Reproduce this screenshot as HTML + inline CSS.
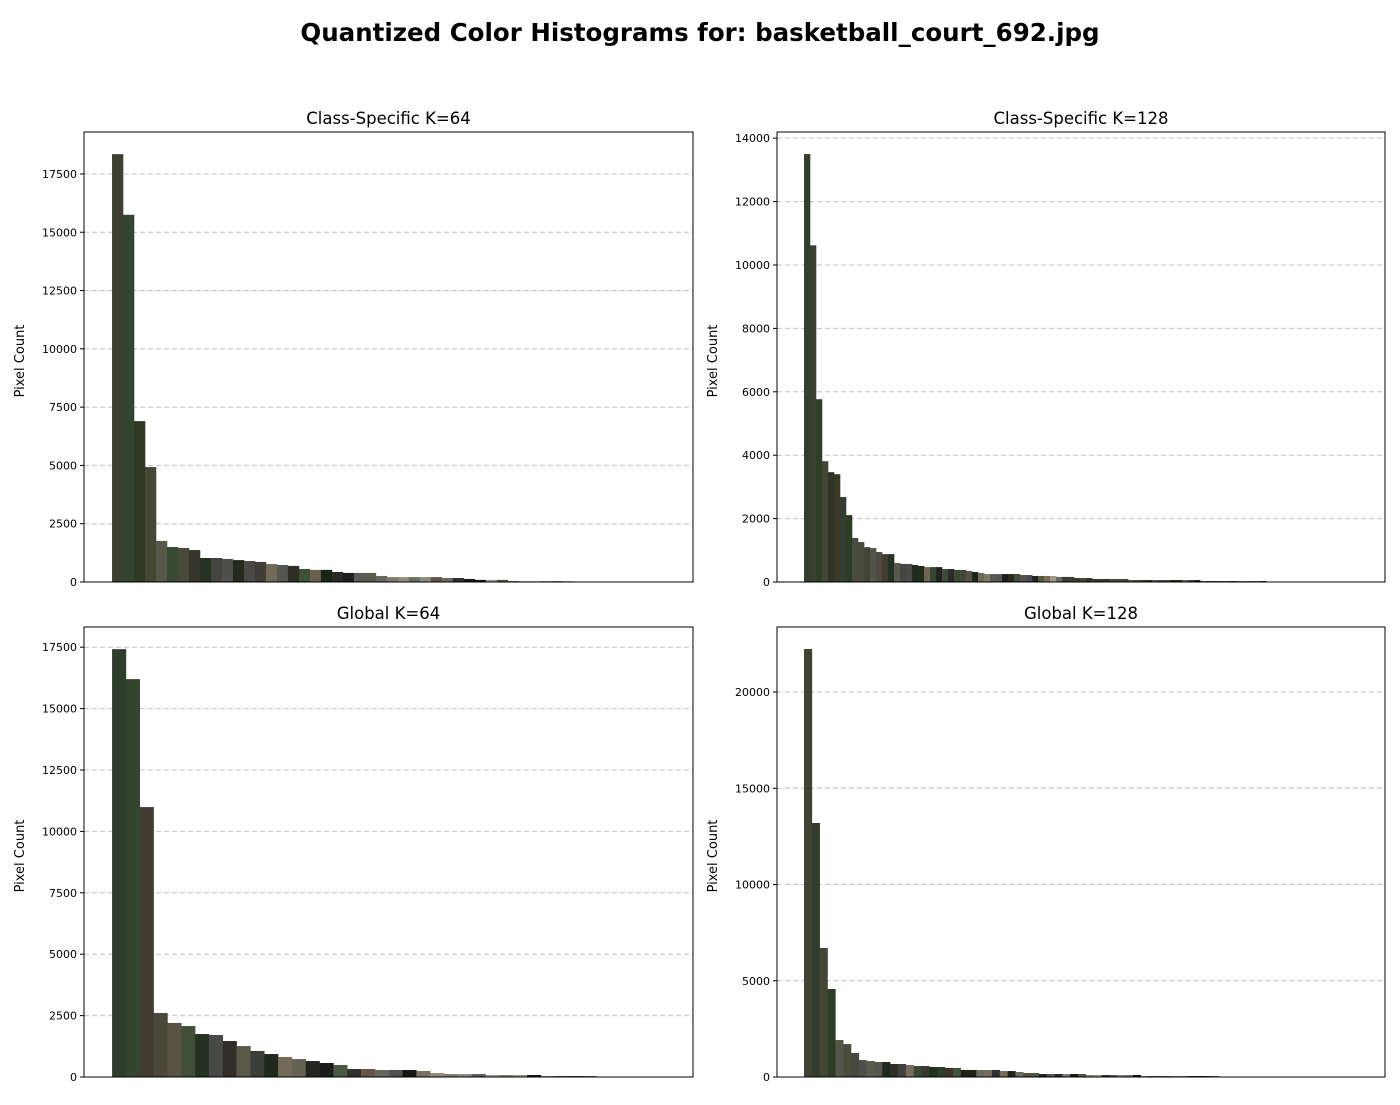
<!DOCTYPE html>
<html><head><meta charset="utf-8"><style>
body{margin:0;background:#fff;font-family:"Liberation Sans","DejaVu Sans",sans-serif}
svg text{font-family:"DejaVu Sans","Liberation Sans",sans-serif}
</style></head><body>
<svg id="fig" width="1400" height="1100" xmlns="http://www.w3.org/2000/svg">
<rect width="1400" height="1100" fill="#fff"/>
<text x="700" y="41" text-anchor="middle" font-size="24.5" font-weight="bold">Quantized Color Histograms for: basketball_court_692.jpg</text>
</svg>
<script>
const tlValues=[18350,15750,6900,4930,1760,1500,1460,1370,1030,1030,990,940,900,860,770,730,690,560,520,520,430,390,390,390,260,210,210,210,210,210,170,170,130,90,90,90,40,30,30,30,40,30];
const tlColors=["#3d4030","#324530","#2e3a24","#464836","#57574a","#384a33","#4a4a3a","#36332a","#243322","#464440","#4e4e4c","#232a1c","#4a4845","#403d37","#716a58","#555651","#2e2e24","#3e5138","#6a604e","#1b2416","#2a2a28","#1f1f1e","#585a57","#5e5a4a","#686862","#807a69","#958e7e","#687058","#8c8a80","#67504a","#6b6b60","#2b2d30","#151714","#141414","#a09a8c","#4a5a40","#5a4440","#6a6a66","#7a7a70","#111","#707070","#777"];
const trValues=[13500,10620,5765,3810,3465,3400,2680,2110,1390,1260,1100,1070,945,880,880,600,570,570,535,505,470,470,470,410,410,380,380,345,315,285,250,250,250,250,250,250,220,220,190,190,190,190,160,160,160,125,125,125,95,95,95,95,95,95,63,63,63,63,63,63,63,63,63,63,63,63,30,30,30,30,30,30,30,30,30,30,30];
const trColors=["#353d2e","#3a4030","#2f3f28","#424632","#2f3328","#3a3a26","#323e34","#2b3d22","#4c4a40","#484a3c","#434437","#505548","#4e4a40","#403c30","#243322","#5a584c","#444440","#484846","#1f2a1a","#202c1c","#6e6652","#344830","#222","#404a3c","#2a2a2a","#3a4a32","#3f4a36","#555048","#1b2416","#6e6a5a","#7a7a62","#5a5a50","#555","#1c1c1a","#2a2a1c","#3e4e38","#545050","#4a4a4a","#222","#58583e","#7c6a55","#a09888","#6a6a64"];
const blValues=[17420,16200,10990,2605,2200,2075,1750,1710,1465,1260,1060,935,815,730,650,570,490,325,325,285,285,285,245,160,120,120,120,80,80,80,80,40,40,40,40];
const blColors=["#2f3d2c","#344530","#403c30","#4a4838","#5a5244","#405038","#243222","#484a48","#302e26","#5a5848","#3c3e3a","#1e2a1c","#746a58","#646252","#252522","#1c1c1a","#4a5a44","#303030","#6a5446","#666860","#505250","#151712","#787260","#908878","#807a68","#8c8a84","#5a5a5a","#a09888","#807e74","#9a9a90","#111","#888880","#3e4e38","#2a3030","#666"];
const brValues=[22235,13195,6700,4570,1920,1710,1250,880,830,780,780,675,675,625,570,570,520,520,470,470,365,365,365,365,365,310,310,260,210,210,155,155,155,155,155,155,105,105,105,105,105,105,105,52,52,52,52,52,52,52,52,52,52];
const brColors=["#3e4332","#333c2c","#424634","#2c3d25","#55554a","#4a4c3c","#48483f","#4e4e4c","#5a5a50","#555552","#1e2a1e","#2e2e26","#404040","#786c5a","#384834","#3a3630","#223022","#2c3e28","#3a3328","#405538","#201f18","#1a2214","#6a6a62","#766a58","#303030","#7a6a58","#242018","#6c6c64","#5c4c3c","#4a5a44","#222","#555","#2a2a2a","#7a7a70","#151512","#5a4c40","#908878","#a09888","#333","#4a5a44","#888","#777","#111","#9a9a90","#3e4e38","#555","#666","#a09888","#777","#222","#111","#333","#666"];
const panels=[
 {title:"Class-Specific K=64",x0:84,y0:132,w:609,h:450,ymax:19300,ticks:[0,2500,5000,7500,10000,12500,15000,17500],vals:tlValues,cols:tlColors,xmin:-3.05,xmax:52.35},
 {title:"Class-Specific K=128",x0:777,y0:132,w:608,h:450,ymax:14195,ticks:[0,2000,4000,6000,8000,10000,12000,14000],vals:trValues,cols:trColors,xmin:-5.0,xmax:96.3},
 {title:"Global K=64",x0:84,y0:627,w:609,h:450,ymax:18322,ticks:[0,2500,5000,7500,10000,12500,15000,17500],vals:blValues,cols:blColors,xmin:-2.53,xmax:41.5},
 {title:"Global K=128",x0:777,y0:627,w:608,h:450,ymax:23377,ticks:[0,5000,10000,15000,20000],vals:brValues,cols:brColors,xmin:-3.95,xmax:73.7}
];
const svg=document.getElementById('fig');
const NS="http://www.w3.org/2000/svg";
function mk(tag,attrs){const e=document.createElementNS(NS,tag);for(const k in attrs)e.setAttribute(k,attrs[k]);svg.appendChild(e);return e;}
panels.forEach((p,pi)=>{
 const xs=v=>p.x0+(v-p.xmin)/(p.xmax-p.xmin)*p.w;
 const ys=v=>p.y0+p.h-v/p.ymax*p.h;
 p.ticks.forEach(t=>{
  if(t>0){const g=mk('line',{x1:p.x0,x2:p.x0+p.w,y1:ys(t),y2:ys(t),stroke:'#c0c0c0','stroke-dasharray':'5,3','stroke-width':1});
  
  }
  const tk=mk('line',{x1:p.x0-4,x2:p.x0,y1:ys(t),y2:ys(t),stroke:'#000','stroke-width':1});
  
  
  const tl=mk('text',{x:p.x0-7,y:ys(t)+4,'text-anchor':'end','font-size':11});
  tl.textContent=t;
  
  
 });
 p.vals.forEach((v,i)=>{
  const r=mk('rect',{x:xs(i-0.5),y:ys(v),width:xs(i+0.5)-xs(i-0.5)+0.3,height:ys(0)-ys(v),fill:p.cols[i%p.cols.length]});
  
  
 });
 const fr=mk('rect',{x:p.x0,y:p.y0,width:p.w,height:p.h,fill:'none',stroke:'#000','stroke-width':1});
 
 
 const tt=mk('text',{x:p.x0+p.w/2,y:p.y0-8,'text-anchor':'middle','font-size':16.5});
 tt.textContent=p.title;
 
 
 const yl=mk('text',{x:0,y:0,'text-anchor':'middle','font-size':13,transform:`translate(${p.x0-60},${p.y0+p.h/2+4}) rotate(-90)`});
 yl.textContent='Pixel Count';
 
 
});
</script>
</body></html>
